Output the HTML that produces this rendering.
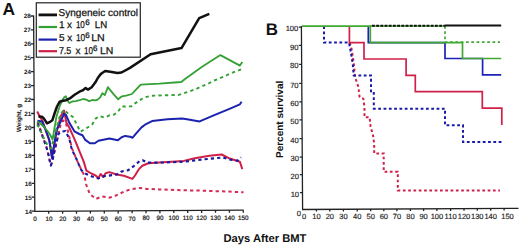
<!DOCTYPE html>
<html><head><meta charset="utf-8">
<style>
html,body{margin:0;padding:0;background:#fff;}
body{width:520px;height:246px;overflow:hidden;position:relative;font-family:"Liberation Sans",sans-serif;}
svg{position:absolute;left:0;top:0;}
text{font-family:"Liberation Sans",sans-serif;text-rendering:geometricPrecision;}
</style></head><body>
<svg width="520" height="246" viewBox="0 0 520 246">
<rect width="520" height="246" fill="#fff"/>
<!-- Panel labels -->
<text x="2.5" y="15.2" font-size="17.4" font-weight="bold" fill="#111">A</text>
<text x="265.7" y="34.8" font-size="16.9" font-weight="bold" fill="#111">B</text>

<!-- ============ PANEL A ============ -->
<g id="axesA" stroke="#222" stroke-width="1.3" fill="none">
  <path d="M33.6,15.6 L34.8,211.4 L243.6,210.2"/>
  <path d="M30.6,16.0 H33.60 M30.7,29.9 H33.69 M30.8,43.8 H33.77 M30.9,57.7 H33.86 M30.9,71.6 H33.94 M31.0,85.6 H34.03 M31.1,99.5 H34.11 M31.2,113.5 H34.20 M31.3,127.5 H34.29 M31.4,141.4 H34.37 M31.5,155.3 H34.46 M31.5,169.3 H34.54 M31.6,183.3 H34.63 M31.7,197.2 H34.71 M31.8,211.2 H34.80"/>
  <path d="M48.7,211.32 v2.5 M62.6,211.24 v2.5 M76.5,211.16 v2.5 M90.4,211.08 v2.5 M104.3,211.00 v2.5 M118.2,210.92 v2.5 M132.1,210.84 v2.5 M146.0,210.76 v2.5 M159.9,210.68 v2.5 M173.8,210.60 v2.5 M187.7,210.52 v2.5 M201.6,210.44 v2.5 M215.5,210.36 v2.5 M229.4,210.28 v2.5 M243.3,210.20 v2.5"/>
</g>
<g font-size="6.3" fill="#222" text-anchor="end" font-weight="bold">
  <text x="30.7" y="18.2">28</text><text x="30.8" y="32.2">27</text><text x="30.9" y="46.1">26</text><text x="31.0" y="60.1">25</text>
  <text x="31.1" y="74.1">24</text><text x="31.1" y="88.1">23</text><text x="31.2" y="102.1">22</text><text x="31.3" y="116.2">21</text>
  <text x="31.4" y="130.2">20</text><text x="31.5" y="144.2">19</text><text x="31.6" y="158.1">18</text><text x="31.7" y="172.2">17</text>
  <text x="31.7" y="186.3">16</text><text x="31.8" y="200.2">15</text><text x="31.9" y="214.3">14</text>
</g>
<g font-size="6.3" fill="#222" text-anchor="middle" stroke="#222" stroke-width="0.22">
  <text x="35.0" y="220.6">0</text><text x="49.0" y="220.6">10</text><text x="62.8" y="220.6">20</text><text x="76.6" y="220.6">30</text>
  <text x="90.4" y="220.6">40</text><text x="104.3" y="220.6">50</text><text x="118.2" y="220.6">60</text><text x="132.1" y="220.6">70</text>
  <text x="146.0" y="219.9">80</text><text x="159.9" y="219.9">90</text><text x="173.8" y="219.9">100</text><text x="187.7" y="219.9">110</text>
  <text x="201.6" y="219.9">120</text><text x="215.5" y="219.9">130</text><text x="229.4" y="219.9">140</text><text x="243.3" y="219.9">150</text>
</g>
<text transform="translate(20.8,132) rotate(-90)" font-size="6.3" font-weight="bold" fill="#111">Weight, g</text>

<!-- curves A -->
<g fill="none" stroke-linejoin="round" stroke-linecap="butt">
  <!-- red solid -->
  <path stroke="#d02048" stroke-width="2" d="M37.2,111.5 L39.8,116.8 L42.5,120.8 L45,128.5 L47,134 L49.5,141 L51.9,156.3 L53.8,147 L56,134.1 L60.8,116 L64,110.5 L66.3,122.3 L69.5,128 L72.8,135.3 L76,142.6 L79.3,150.8 L83.6,161.4 L86.4,170.6 L91.4,173.5 L95.9,175.7 L98.3,178.2 L100.7,174 L103.2,177 L105.6,173.3 L109.3,172.1 L116.6,174.5 L123.9,175.7 L132.4,178.9 L135,175.5 L138.7,169.4 L142.3,165.7 L148.4,163.3 L159.4,162.6 L183.8,160.9 L194.8,158.2 L209.4,155.7 L221.6,154.5 L228.9,158.2 L239.9,161.8 L242.3,169.1"/>
  <!-- red dashed -->
  <path stroke="#d52a55" stroke-width="2" stroke-dasharray="3.3,3.1" d="M37.5,122 L40,128 L43,137 L46.5,147 L49.5,160 L51,165 L53,158 L56.5,143 L60.5,125 L63,120.5 L65.4,121.5 L67.9,131 L71.8,148 L75.5,157 L79.1,165 L82,171 L84.5,176 L86.1,184.3 L89.8,194 L95.9,198.9 L102,196.5 L109.3,197.7 L116.6,195.2 L123.9,191.6 L131.2,189.1 L139.8,187.9 L147.2,188.9 L159.4,189.4 L176.5,190.1 L199.6,190.6 L214.3,191.1 L228.9,191.6 L243.5,192.3"/>
  <!-- blue solid -->
  <path stroke="#1c22b0" stroke-width="2" d="M37.4,120.7 L42,121.5 L44.9,128 L47,133.5 L49.3,140 L52,158 L54,146 L56.8,129.5 L60.7,121.5 L63.9,114 L66,115 L69.5,123.1 L74.4,131.3 L79.3,134 L82.5,135.3 L85,139.6 L89.9,143.3 L94.8,143.3 L98.4,140.8 L109.4,138.4 L117.9,140.3 L121.6,137.2 L125.2,135.9 L130.1,136.7 L132.6,137.7 L136,133.7 L141.5,127.4 L145,124.7 L152.1,121.1 L167.5,119.3 L182.2,118.4 L187,119.2 L199.6,121.4 L214.3,115.2 L228.9,109.1 L239.9,104.3 L241.6,101.8"/>
  <!-- blue dashed -->
  <path stroke="#1a1aa0" stroke-width="2.1" stroke-dasharray="3.2,3.1" d="M37.7,123.3 L42.5,136.3 L46,146 L48.2,153.4 L50.8,165.6 L52.2,162 L53.9,153.4 L58.4,134.1 L60.8,131.7 L65.5,131 L69.4,139 L71.8,149.5 L75.5,156.8 L79.1,165.2 L81.6,170.5 L85.7,173.7 L92.1,176.5 L98.5,178.4 L103.4,176.4 L108.4,175.7 L117,174.4 L121.3,171.6 L128.4,170.1 L134.1,165.8 L139.5,161.2 L142.6,160.2 L147.2,162.6 L159.4,162.6 L172,162.2 L185,161.6 L197.2,160.1 L209.4,158.8 L222.8,157.5 L230.1,159.6 L237.4,160.7 L241.1,157.4"/>
  <!-- green dashed -->
  <path stroke="#35a035" stroke-width="1.9" stroke-dasharray="3.3,3.2" d="M37,124.5 L40,129 L44,138.5 L48,146 L51,148.5 L53.5,140 L57,126 L60.5,114 L64,110 L68,113.4 L73,117.1 L77.9,126.8 L80.3,131.7 L85,129.1 L89.9,126 L92.3,124.3 L95.6,118.6 L99.6,116.1 L102.9,117.2 L106.1,117 L109.4,115.3 L114.3,114.5 L118.3,111.3 L121.6,106.6 L127.3,106.4 L131.3,106.4 L135.4,103.1 L140.3,99.9 L145,97.2 L151.2,95.8 L164.3,95.3 L178.9,94.9 L185.4,92.7 L194.8,89.5 L199.6,87.4 L209.4,83 L214.3,80.5 L224,76.5 L228.9,74.2 L242.3,68.8"/>
  <!-- green solid -->
  <path stroke="#35a035" stroke-width="1.8" d="M37,121.5 L40,123 L44.5,127.5 L47.5,131 L50,134.5 L52.6,139.5 L54.5,128 L56.5,116.5 L59.6,106.4 L62,101 L64.2,97.2 L65.8,96.3 L67.5,100.6 L69.4,103 L72.2,101.5 L75.9,101.2 L79.5,100.2 L83.2,99 L86.2,99.6 L89.3,101.2 L92.3,100 L95.4,100.4 L97.6,99.6 L100,97.6 L102.4,93.2 L104.8,95.1 L107.9,87.1 L113.3,93.9 L118.2,99.3 L121.9,96.3 L126.1,95.7 L132,94 L135,90.6 L140.8,84.6 L159.4,83.7 L181.3,82 L185,79 L202.1,66.8 L220.4,55.1 L239.9,65.6 L242.3,62"/>
  <!-- black -->
  <path stroke="#111" stroke-width="2.5" d="M38.5,116.6 L42,116.8 L44,118.6 L47,123.3 L49.5,122.2 L52.3,120.3 L54.7,113 L57,106.5 L59.6,101.8 L62,101 L66.1,100.2 L69.8,98.4 L74.6,94.7 L79.5,91.7 L82.6,90.4 L85.6,88 L88,89.6 L91.7,87.2 L95.4,82.3 L97.8,78 L100,75 L101.8,73.2 L105.2,71 L110.3,71.8 L117.4,73 L121.5,72.5 L130,67.9 L150.6,54.2 L181.5,48.1 L199.2,18.2 L209.3,13.8"/>
</g>

<!-- legend -->
<rect x="36.3" y="2.8" width="104" height="54.4" fill="#fff" stroke="#222" stroke-width="1.2"/>
<g stroke-width="2.2">
  <line x1="38.6" y1="14.9" x2="57" y2="14.9" stroke="#111" stroke-width="2.8"/>
  <line x1="38.6" y1="27" x2="57" y2="27" stroke="#35a035"/>
  <line x1="38.6" y1="39.6" x2="57" y2="39.6" stroke="#1c22b0"/>
  <line x1="38.6" y1="51.2" x2="57" y2="51.2" stroke="#d02048"/>
</g>
<g font-size="10" fill="#111" stroke="#111" stroke-width="0.25">
  <text x="58.6" y="15.5">Syngeneic control</text>
  <g font-size="10">
  <text x="58.9" y="28.4">1</text><text x="66.9" y="28.4">x</text><text x="75.9" y="28.4" textLength="8.9" lengthAdjust="spacingAndGlyphs">10</text><text x="85.3" y="24.7" font-size="8">6</text><text x="94.8" y="28.4" textLength="12.4" lengthAdjust="spacingAndGlyphs">LN</text>
  <text x="58.9" y="41.4">5</text><text x="67.3" y="41.4">x</text><text x="75.9" y="41.4" textLength="9.3" lengthAdjust="spacingAndGlyphs">10</text><text x="85.2" y="37.7" font-size="8">6</text><text x="91.2" y="41.4" textLength="13.6" lengthAdjust="spacingAndGlyphs">LN</text>
  <text x="58.9" y="54.4" textLength="12.4" lengthAdjust="spacingAndGlyphs">7.5</text><text x="75.4" y="54.4">x</text><text x="84" y="54.4" textLength="8.9" lengthAdjust="spacingAndGlyphs">10</text><text x="93.1" y="50.7" font-size="8">6</text><text x="99.9" y="54.4" textLength="13.4" lengthAdjust="spacingAndGlyphs">LN</text>
  </g>
</g>

<!-- ============ PANEL B ============ -->
<g stroke="#222" stroke-width="1.3" fill="none">
  <path d="M301.4,26 L302.6,209.5 L518.5,208.3"/>
  <path d="M298.8,27.2 H301.41 M298.9,45.4 H301.53 M299.1,64.3 H301.65 M299.2,83.4 H301.78 M299.3,101.9 H301.90 M299.4,119.9 H302.01 M299.5,138.6 H302.14 M299.7,157.2 H302.26 M299.8,174.7 H302.37 M299.9,192.6 H302.49"/>
  <path d="M316.4,209.42 v2.2 M329.8,209.35 v2.2 M343.4,209.27 v2.2 M357.2,209.20 v2.2 M370.7,209.12 v2.2 M383.8,209.05 v2.2 M396.9,208.98 v2.2 M410.4,208.90 v2.2 M423.6,208.83 v2.2 M436.9,208.75 v2.2 M450.6,208.68 v2.2 M464.0,208.60 v2.2 M477.3,208.53 v2.2 M490.7,208.45 v2.2 M504.1,208.38 v2.2"/>
</g>
<g font-size="7.6" fill="#222" text-anchor="end" stroke="#222" stroke-width="0.15">
  <text x="298.3" y="31">100</text><text x="298.4" y="50.3">90</text><text x="298.5" y="68.3">80</text><text x="298.6" y="87.6">70</text>
  <text x="298.7" y="106">60</text><text x="298.7" y="123.8">50</text><text x="298.8" y="142.6">40</text><text x="298.9" y="161.2">30</text>
  <text x="299.0" y="178.8">20</text><text x="299.1" y="196.6">10</text><text x="301" y="216">0</text>
</g>
<g font-size="7.5" fill="#222" text-anchor="middle" stroke="#222" stroke-width="0.15">
  <text x="304.0" y="219.1">0</text><text x="316.4" y="219.1">10</text><text x="329.8" y="219.0">20</text><text x="343.4" y="219.0">30</text>
  <text x="357.2" y="218.9">40</text><text x="370.7" y="218.9">50</text><text x="383.8" y="218.9">60</text><text x="396.9" y="218.8">70</text>
  <text x="410.4" y="218.8">80</text><text x="423.6" y="218.7">90</text><text x="436.9" y="218.7">100</text><text x="450.6" y="218.7">110</text>
  <text x="464.0" y="218.6">120</text><text x="477.3" y="218.6">130</text><text x="490.7" y="218.5">140</text><text x="507.5" y="218.5">150</text>
</g>
<text transform="translate(282.6,158) rotate(-90)" font-size="10" font-weight="bold" fill="#111">Percent survival</text>

<g fill="none" stroke-width="1.7" stroke-linejoin="miter">
  <!-- red dotted -->
  <path stroke="#d02048" stroke-width="2" stroke-dasharray="2.7,2.6" d="M349.5,42.7 L351,46 L352,51.5 L353.7,62.4 L354.8,74.9 L356,79.8 L358.4,87.1 L359.6,97 L363.3,98.7 L364.5,107.2 L364.5,117.2 L369.6,117.4 L370.6,126.7 L373,135.2 L374.2,143.8 L374.2,153.4 L383.7,153.4 L383.7,171.7 L397.8,171.7 L397.8,190.5 L500,190.5"/>
  <!-- blue dotted -->
  <path stroke="#1a1aa8" stroke-width="2" stroke-dasharray="2.8,2.5" d="M324,26.2 V42.6 H349.1 L350,47.8 L351,53.3 L351.9,58.8 L352.8,64.3 L353.2,69.7 L353.7,75.5 H371 V93 H373.8 V108.7 H445 V125.2 H463 V142 H501.5"/>
  <!-- red solid -->
  <path stroke="#d02048" d="M349.4,26.2 V42.7 H364 V59 H406.1 V75.4 H415.3 V91.7 H482.3 V108.2 H501.8 V125"/>
  <!-- blue solid -->
  <path stroke="#1c22b8" d="M368.3,26.2 V42.7 H445 V58.5 H482.6 V74.8 H501.2"/>
  <!-- green dotted -->
  <path stroke="#40a832" stroke-dasharray="2.7,2.6" d="M445,26 V42.1 H500"/>
  <!-- green solid -->
  <path stroke="#40a832" d="M302,26.1 H370.3 V42.6 H462.5 V58.5 H501.2"/>
  <!-- black: dotted portion + solid -->
  <path stroke="#40a832" d="M370,26 H445"/>
  <path stroke="#111" stroke-width="2" stroke-dasharray="2.8,1.4" d="M372,25.8 H445"/>
  <path stroke="#111" stroke-width="2" d="M445,25.6 H501.2"/>
</g>

<text x="223.5" y="241.6" font-size="11.2" font-weight="bold" fill="#111">Days After BMT</text>
</svg>
</body></html>
